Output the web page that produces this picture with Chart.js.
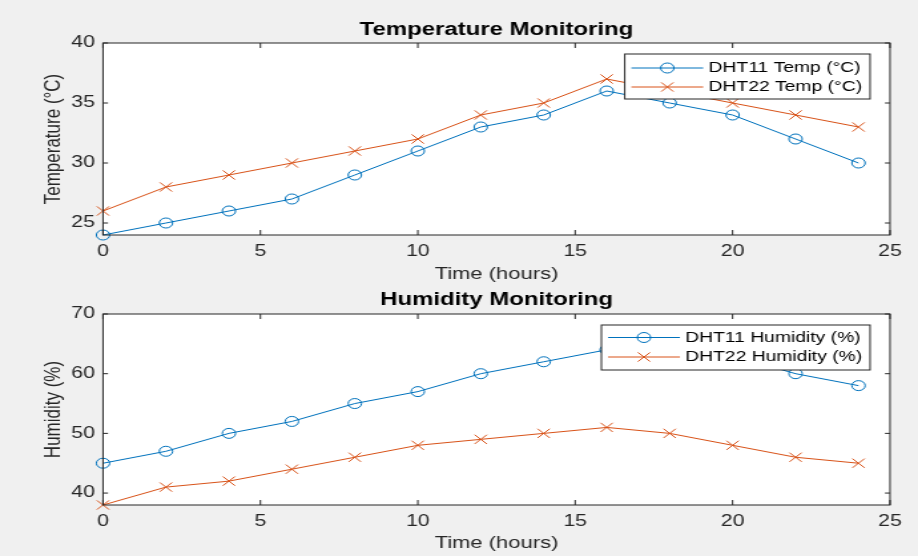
<!DOCTYPE html>
<html>
<head>
<meta charset="utf-8">
<script src="https://cdn.jsdelivr.net/npm/chart.js@4.4.1/dist/chart.umd.min.js"></script>
<style>
  html, body { margin: 0; padding: 0; background: #f0f0f0; }
  #wrap { position: relative; width: 918px; height: 556px; overflow: hidden; }
  canvas { position: absolute; left: 0; }
</style>
</head>
<body>
<div id="wrap">
  <canvas id="temp-chart" width="690" height="300" style="top:0;width:918px;height:300px"></canvas>
  <canvas id="hum-chart" width="690" height="278" style="top:278px;width:918px;height:278px"></canvas>
</div>
<script>
// data
const hours = [0, 2, 4, 6, 8, 10, 12, 14, 16, 18, 20, 22, 24];
const dht11Temp = [24, 25, 26, 27, 29, 31, 33, 34, 36, 35, 34, 32, 30];
const dht22Temp = [26, 28, 29, 30, 31, 32, 34, 35, 37, 36, 35, 34, 33];
const dht11Hum = [45, 47, 50, 52, 55, 57, 60, 62, 64, 65, 63, 60, 58];
const dht22Hum = [38, 41, 42, 44, 46, 48, 49, 50, 51, 50, 48, 46, 45];

const tempTicks = [25, 30, 35, 40];
const humTicks = [40, 50, 60, 70];
const tempRange = [24, 40];
const humRange = [38, 70];
const timeRange = [0, 25];

// the reference is stretched sideways, so the canvas is drawn narrow and scaled by css
const S = 918 / 690;
const FONT = '"Liberation Sans", Arial, sans-serif';
const BLUE = '#0072BD';
const ORANGE = '#D95319';

const frame = {
    id: 'frame',
    beforeDraw(chart) {
        const { ctx, chartArea: a } = chart;
        ctx.save();
        ctx.fillStyle = '#ffffff';
        ctx.fillRect(a.left, a.top, a.width, a.height);
        ctx.restore();
    },
    afterDraw(chart, args, opts) {
        const { ctx, chartArea: a } = chart;
        const x = chart.scales.x, y = chart.scales.y;
        ctx.save();
        // box and inward ticks
        ctx.strokeStyle = '#262626';
        ctx.lineWidth = 1;
        ctx.strokeRect(a.left, a.top, a.width, a.height);
        ctx.beginPath();
        x.ticks.forEach(t => {
            const px = x.getPixelForValue(t.value);
            ctx.moveTo(px, a.bottom); ctx.lineTo(px, a.bottom - 5);
            ctx.moveTo(px, a.top); ctx.lineTo(px, a.top + 5);
        });
        y.ticks.forEach(t => {
            const py = y.getPixelForValue(t.value);
            ctx.moveTo(a.left, py); ctx.lineTo(a.left + 5 / S, py);
            ctx.moveTo(a.right, py); ctx.lineTo(a.right - 5 / S, py);
        });
        ctx.stroke();

        // title
        ctx.fillStyle = '#000000';
        ctx.font = 'bold 18px ' + FONT;
        ctx.textAlign = 'center';
        ctx.textBaseline = 'middle';
        ctx.fillText(opts.title, (a.left + a.right) / 2, a.top - opts.titleGap);

        // legend box, matlab style
        ctx.font = '14.5px ' + FONT;
        const sets = chart.data.datasets;
        const textW = Math.max(...sets.map(d => ctx.measureText(d.label).width));
        const boxRight = a.right - 15;
        const textLeft = boxRight - 6 - textW;
        const lineEnd = textLeft - 4;
        const lineStart = lineEnd - 54;
        const boxLeft = lineStart - 5;
        const boxTop = a.top + 11;
        ctx.fillStyle = '#ffffff';
        ctx.fillRect(boxLeft, boxTop, boxRight - boxLeft, 45);
        ctx.strokeStyle = '#262626';
        ctx.strokeRect(boxLeft, boxTop, boxRight - boxLeft, 45);
        sets.forEach((d, i) => {
            const ry = boxTop + opts.rows[i];
            ctx.strokeStyle = d.borderColor;
            ctx.lineWidth = 1;
            ctx.beginPath();
            ctx.moveTo(lineStart, ry); ctx.lineTo(lineEnd, ry);
            ctx.stroke();
            ctx.fillStyle = 'rgba(0,0,0,0)';
            Chart.helpers.drawPoint(ctx, {
                pointStyle: d.pointStyle, rotation: 0, radius: d.pointRadius, borderWidth: 1
            }, (lineStart + lineEnd) / 2, ry);
            ctx.fillStyle = '#000000';
            ctx.textAlign = 'left';
            ctx.textBaseline = 'middle';
            ctx.fillText(d.label, textLeft, ry);
        });
        ctx.restore();
    }
};

function series(label, values, color, style, radius) {
    return {
        label: label,
        data: hours.map((h, i) => ({ x: h, y: values[i] })),
        borderColor: color,
        backgroundColor: color,
        borderWidth: 1,
        pointStyle: style,
        pointRadius: radius,
        pointBorderWidth: 1,
        pointBorderColor: color,
        pointBackgroundColor: 'rgba(0,0,0,0)',
        tension: 0,
        clip: false
    };
}

function makeChart(id, cfg) {
    let context = document.querySelector(id).getContext('2d');
    return new Chart(context, {
        type: 'line',
        data: { datasets: cfg.datasets },
        plugins: [frame],
        options: {
            responsive: false,
            animation: false,
            devicePixelRatio: 1,
            events: [],
            layout: { padding: { left: 0, right: 28 / S, top: cfg.top, bottom: 0 } },
            plugins: {
                legend: { display: false },
                title: { display: false },
                tooltip: { enabled: false },
                frame: { title: cfg.title, titleGap: cfg.titleGap, rows: cfg.rows }
            },
            scales: {
                x: {
                    type: 'linear',
                    min: timeRange[0],
                    max: timeRange[1],
                    grid: { display: false, drawTicks: false },
                    border: { display: false },
                    ticks: {
                        stepSize: 5, padding: 7, color: '#262626',
                        maxRotation: 0, autoSkip: false,
                        font: { size: 16, family: FONT }
                    },
                    title: {
                        display: true, text: 'Time (hours)', color: '#262626',
                        font: { size: 16.5, family: FONT },
                        padding: { top: 0, bottom: cfg.xTitlePad }
                    },
                    afterFit: s => { s.height = cfg.xHeight; }
                },
                y: {
                    type: 'linear',
                    min: cfg.range[0],
                    max: cfg.range[1],
                    afterBuildTicks: s => { s.ticks = cfg.ticks.map(v => ({ value: v })); },
                    grid: { display: false, drawTicks: false },
                    border: { display: false },
                    ticks: {
                        padding: 6, color: '#262626',
                        font: { size: 16, family: FONT }
                    },
                    title: {
                        display: true, text: cfg.yTitle, color: '#262626',
                        font: { size: 17, family: FONT },
                        padding: { top: 30.4, bottom: 0 }
                    },
                    afterFit: s => { s.width = 103 / S; }
                }
            }
        }
    });
}

window.onload = function () {
    makeChart('#temp-chart', {
        datasets: [
            series('DHT11 Temp (°C)', dht11Temp, BLUE, 'circle', 5),
            series('DHT22 Temp (°C)', dht22Temp, ORANGE, 'crossRot', 6.5)
        ],
        title: 'Temperature Monitoring',
        titleGap: 13,
        rows: [14, 33],
        top: 43,
        xHeight: 65,
        xTitlePad: 16,
        range: tempRange,
        ticks: tempTicks,
        yTitle: 'Temperature (°C)'
    });
    makeChart('#hum-chart', {
        datasets: [
            series('DHT11 Humidity (%)', dht11Hum, BLUE, 'circle', 5),
            series('DHT22 Humidity (%)', dht22Hum, ORANGE, 'crossRot', 6.5)
        ],
        title: 'Humidity Monitoring',
        titleGap: 14,
        rows: [12.5, 32],
        top: 36,
        xHeight: 51,
        xTitlePad: 3,
        range: humRange,
        ticks: humTicks,
        yTitle: 'Humidity (%)'
    });
};
</script>
</body>
</html>
